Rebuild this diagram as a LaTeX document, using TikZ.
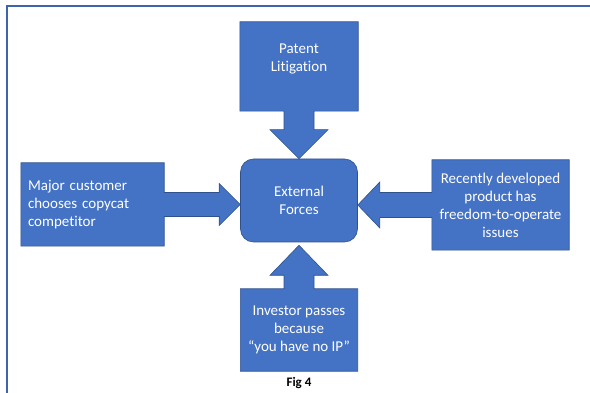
\documentclass[tikz,border=0pt]{standalone}
\usepackage{fontspec}
\setmainfont{Carlito}[Ligatures=NoCommon]
\usetikzlibrary{calc,backgrounds}
\definecolor{boxblue}{RGB}{68,114,196}
\definecolor{edgeblue}{RGB}{47,82,143}
\definecolor{frameblue}{RGB}{62,100,175}

\begin{document}
\begin{tikzpicture}[
  x=1pt, y=-1pt,
  every node/.style={text=white, font=\fontsize{15}{18}\selectfont,
    align=center, inner sep=0pt},
  callout/.style={fill=boxblue, draw=edgeblue, line width=0.6pt},
  core/.style={fill=boxblue, draw=edgeblue, line width=0.6pt,
    rounded corners=13pt, minimum width=117pt, minimum height=83pt},
  frame/.style={draw=frameblue, line width=1.6pt}
]
  \useasboundingbox (0,0) rectangle (590,393);
  \draw[frame] (7,393) -- (7,6) -- (590,6);

  \node[core] (ext) at (299,200.5) {External\\Forces};
  \node[minimum width=118pt, minimum height=89pt, text depth=18pt] (pat)
    at (299,66.5) {Patent\\Litigation};
  \node[minimum width=143pt, minimum height=83pt, text width=129pt, align=left]
    (cust) at (92.5,204.5) {Major customer\\chooses copycat\\competitor};
  \node[minimum width=137pt, minimum height=90pt] (fto) at (500.5,205)
    {Recently developed\\product has\\freedom-to-operate\\issues};
  \node[minimum width=117pt, minimum height=82pt] (inv) at (299,330)
    {Investor passes\\because\\\textquotedblleft you have no IP\textquotedblright};
  \node[text=black, font=\bfseries\fontsize{13}{15}\selectfont] (cap)
    at (299,383) {Fig 4};

  \coordinate (lt) at (ext.west|-cust.east);
  \coordinate (rt) at (ext.east|-fto.west);
  \coordinate (bt) at ($(ext.south)+(0,3)$);

  \begin{scope}[on background layer]
    \path[callout] (pat.north west) -- (pat.north east) -- (pat.south east)
      -- ($(pat.south)+(15,0)$) -- ($(ext.north)+(15,-29)$)
      -- ($(ext.north)+(29,-29)$) -- (ext.north) -- ($(ext.north)+(-29,-29)$)
      -- ($(ext.north)+(-15,-29)$) -- ($(pat.south)+(-15,0)$)
      -- (pat.south west) -- cycle;
    \path[callout] (cust.north west) -- (cust.north east)
      -- ($(cust.east)+(0,-12)$) -- ($(lt)+(-21,-12)$) -- ($(lt)+(-21,-21)$)
      -- (lt) -- ($(lt)+(-21,21)$) -- ($(lt)+(-21,12)$)
      -- ($(cust.east)+(0,12)$) -- (cust.south east) -- (cust.south west)
      -- cycle;
    \path[callout] (fto.north east) -- (fto.north west)
      -- ($(fto.west)+(0,-12.5)$) -- ($(rt)+(22,-12.5)$) -- ($(rt)+(22,-23)$)
      -- (rt) -- ($(rt)+(22,23)$) -- ($(rt)+(22,12.5)$)
      -- ($(fto.west)+(0,12.5)$) -- (fto.south west) -- (fto.south east)
      -- cycle;
    \path[callout] (inv.south west) -- (inv.south east) -- (inv.north east)
      -- ($(inv.north)+(15,0)$) -- ($(bt)+(15,30)$) -- ($(bt)+(29,30)$)
      -- (bt) -- ($(bt)+(-29,30)$) -- ($(bt)+(-15,30)$)
      -- ($(inv.north)+(-15,0)$) -- (inv.north west) -- cycle;
  \end{scope}
\end{tikzpicture}
\end{document}
